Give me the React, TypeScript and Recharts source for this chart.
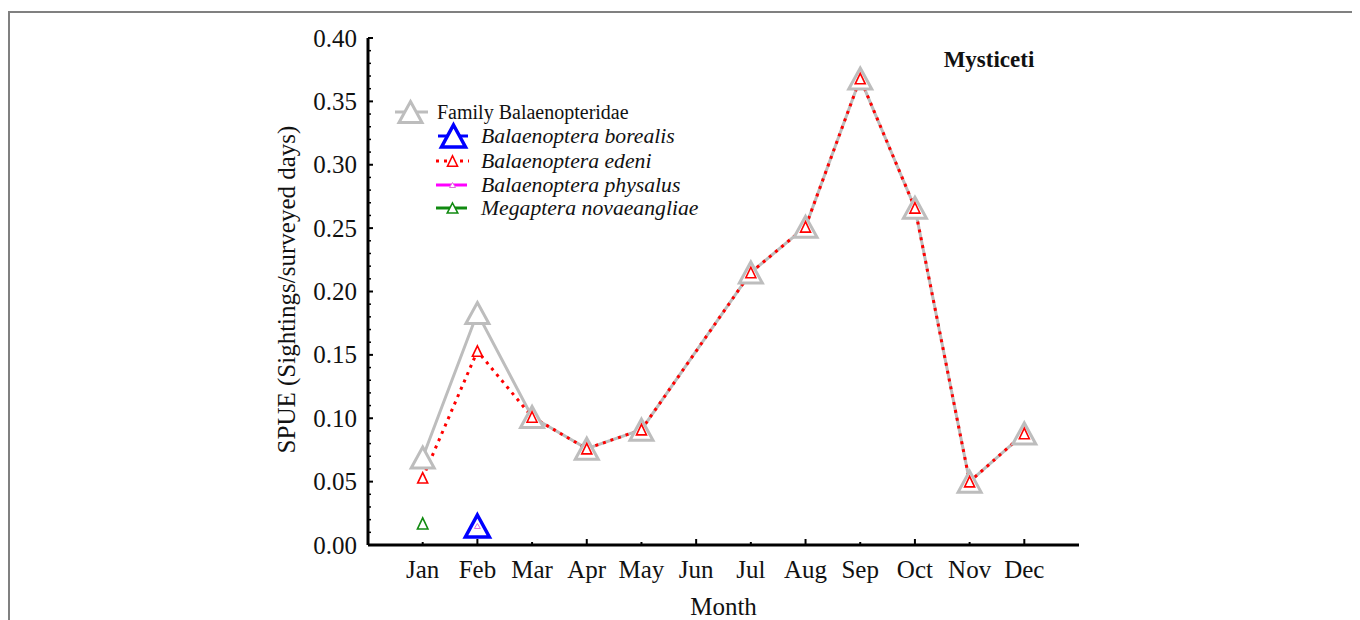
import React from "react";
import { LineChart, Line, XAxis, YAxis, Legend } from "recharts";

const MONTHS = ["Jan", "Feb", "Mar", "Apr", "May", "Jun", "Jul", "Aug", "Sep", "Oct", "Nov", "Dec"];
const FAMILY = [0.069, 0.183, 0.101, 0.076, 0.091, null, 0.215, 0.251, 0.368, 0.266, 0.05, 0.088];
const EDENI = [0.053, 0.153, 0.101, 0.076, 0.091, null, 0.215, 0.251, 0.368, 0.266, 0.05, 0.088];
const BOREALIS = [null, 0.015, null, null, null, null, null, null, null, null, null, null];
const PHYSALUS = [null, 0.015, null, null, null, null, null, null, null, null, null, null];
const MEGAPTERA = [0.017, null, null, null, null, null, null, null, null, null, null, null];

const Y_TICKS = Array.from({ length: 41 }, (_, i) => i / 100);
const X_TICKS = MONTHS.map((_, i) => i + 1);

const data = MONTHS.map((m, i) => ({
  x: i + 1,
  month: m,
  family: FAMILY[i],
  edeni: EDENI[i],
  borealis: BOREALIS[i],
  physalus: PHYSALUS[i],
  megaptera: MEGAPTERA[i],
}));

const FONT = '"Liberation Serif", "Times New Roman", serif';

const C = {
  family: "#bdbdbd",
  borealis: "#0000ff",
  edeni: "#ff0000",
  physalus: "#ff00ff",
  physalusDot: "#e070e0",
  megaptera: "#108a10",
};

function tri(cx: number, cy: number, w: number, h: number) {
  return `${cx},${cy - h / 2} ${cx + w / 2},${cy + h / 2} ${cx - w / 2},${cy + h / 2}`;
}

// triangle markers, white filled like the original plot
function makeDot(color: string, w: number, h: number, sw: number) {
  return (props: any) => {
    const { cx, cy, index, value } = props;
    if (cx == null || cy == null || value == null) return <g key={`e-${index}`} />;
    return (
      <polygon key={`t-${index}`} points={tri(cx, cy, w, h)} fill="#fff" stroke={color} strokeWidth={sw} />
    );
  };
}

function XTick({ x, y, payload }: any) {
  const v = payload.value;
  const len = v % 2 === 0 ? 6 : 3;
  return (
    <g>
      <line x1={x} x2={x} y1={y} y2={y - len} stroke="#000" strokeWidth={2} />
      <text x={x} y={y + 24} textAnchor="middle" dominantBaseline="central" fontSize={25} fontFamily={FONT} fill="#111">
        {MONTHS[v - 1]}
      </text>
    </g>
  );
}

function YTick({ x, y, payload }: any) {
  const v = payload.value;
  const major = Math.round(v * 100) % 5 === 0;
  return (
    <g>
      <line x1={x} x2={x + (major ? 5 : 3)} y1={y} y2={y} stroke="#000" strokeWidth={major ? 2 : 1.5} />
      {major && (
        <text x={x - 11} y={y} textAnchor="end" dominantBaseline="central" fontSize={25} fontFamily={FONT} fill="#111">
          {v.toFixed(2)}
        </text>
      )}
    </g>
  );
}

function YLabel(p: any) {
  const vb = p.viewBox || { x: 278, y: 25, width: 80, height: 507 };
  const cx = vb.x - 2;
  const cy = vb.y + vb.height / 2 - 2;
  return (
    <text x={cx} y={cy} transform={`rotate(-90 ${cx} ${cy})`} textAnchor="middle" dominantBaseline="central" fontSize={25} fontFamily={FONT} fill="#111">
      SPUE (Sightings/surveyed days)
    </text>
  );
}

function XLabel(p: any) {
  const vb = p.viewBox || { x: 358, y: 532, width: 711, height: 60 };
  return (
    <text x={vb.x + vb.width / 2} y={vb.y + 61} textAnchor="middle" dominantBaseline="central" fontSize={25} fontFamily={FONT} fill="#111">
      Month
    </text>
  );
}

// ─── legend (drawn like the Statistica legend) ───
const LEGEND_ROWS = [
  { label: "Family Balaenopteridae", italic: false },
  { label: "Balaenoptera borealis", italic: true },
  { label: "Balaenoptera edeni", italic: true },
  { label: "Balaenoptera physalus", italic: true },
  { label: "Megaptera novaeangliae", italic: true },
];

function LegendBox() {
  const ys = [17, 41, 66, 90, 113];
  return (
    <svg width={330} height={130} style={{ overflow: "visible" }}>
      <line x1={10} x2={43} y1={ys[0]} y2={ys[0]} stroke={C.family} strokeWidth={3} />
      <polygon points={tri(25.5, ys[0], 23, 21)} fill="#fff" stroke={C.family} strokeWidth={3} />

      <line x1={53} x2={83} y1={ys[1]} y2={ys[1]} stroke={C.borealis} strokeWidth={3} />
      <polygon points={tri(68.5, ys[1], 24, 22)} fill="#fff" stroke={C.borealis} strokeWidth={3.5} />

      <line x1={51} x2={84} y1={ys[2]} y2={ys[2]} stroke={C.edeni} strokeWidth={3} strokeDasharray="3 5" />
      <polygon points={tri(67.5, ys[2], 10, 10.5)} fill="#fff" stroke={C.edeni} strokeWidth={1.6} />

      <line x1={51} x2={82} y1={ys[3]} y2={ys[3]} stroke={C.physalus} strokeWidth={3} />
      <polygon points={tri(67.5, ys[3], 6, 5)} fill="#fff" stroke={C.physalusDot} strokeWidth={1} />

      <line x1={51} x2={82} y1={ys[4]} y2={ys[4]} stroke={C.megaptera} strokeWidth={3} />
      <polygon points={tri(67.5, ys[4], 10.5, 10)} fill="#fff" stroke={C.megaptera} strokeWidth={1.6} />

      {LEGEND_ROWS.map((r, i) => (
        <text
          key={r.label}
          x={r.italic ? 96 : 52}
          y={ys[i]}
          dominantBaseline="central"
          fontSize={r.italic ? 21.7 : 20}
          fontStyle={r.italic ? "italic" : "normal"}
          fontFamily={FONT}
          fill="#111"
        >
          {r.label}
        </text>
      ))}
    </svg>
  );
}

export default function App() {
  return (
    <div style={{ paddingTop: 3 }}>
      <div
        style={{
          position: "relative",
          width: 1344,
          height: 607,
          border: "2px solid #808080",
          borderBottom: "none",
          background: "#fff",
        }}
      >
        <LineChart width={1344} height={607} data={data} margin={{ top: 25, right: 275, bottom: 15, left: 278 }}>
          <XAxis
            dataKey="x"
            type="number"
            domain={[0, 13]}
            ticks={X_TICKS}
            interval={0}
            height={60}
            tickSize={0}
            tickMargin={0}
            tickLine={false}
            tick={<XTick />}
            axisLine={{ stroke: "#000", strokeWidth: 3 }}
            label={(p: any) => <XLabel {...p} />}
          />
          <YAxis
            type="number"
            domain={[0, 0.4]}
            ticks={Y_TICKS}
            interval={0}
            width={80}
            tickSize={0}
            tickMargin={0}
            tickLine={false}
            tick={<YTick />}
            axisLine={{ stroke: "#000", strokeWidth: 3 }}
            label={(p: any) => <YLabel {...p} />}
          />
          <Legend
            layout="horizontal"
            verticalAlign="middle"
            align="center"
            content={() => <LegendBox />}
            wrapperStyle={{ left: 375, top: 82, width: 330, height: 130 }}
          />
          <Line
            dataKey="family"
            stroke={C.family}
            strokeWidth={3}
            connectNulls
            dot={makeDot(C.family, 23, 21, 3)}
            isAnimationActive={false}
          />
          <Line
            dataKey="borealis"
            stroke={C.borealis}
            strokeWidth={3}
            dot={makeDot(C.borealis, 24, 22, 3.5)}
            isAnimationActive={false}
          />
          <Line
            dataKey="edeni"
            stroke={C.edeni}
            strokeWidth={3}
            strokeDasharray="3 5"
            connectNulls
            dot={makeDot(C.edeni, 10, 10.5, 1.6)}
            isAnimationActive={false}
          />
          <Line
            dataKey="physalus"
            stroke={C.physalus}
            strokeWidth={2}
            dot={makeDot(C.physalusDot, 6, 5, 1)}
            isAnimationActive={false}
          />
          <Line
            dataKey="megaptera"
            stroke={C.megaptera}
            strokeWidth={2}
            dot={makeDot(C.megaptera, 10.5, 11, 1.6)}
            isAnimationActive={false}
          />
        </LineChart>
        <div
          style={{
            position: "absolute",
            left: 879,
            top: 35,
            width: 200,
            textAlign: "center",
            lineHeight: "24px",
            fontFamily: FONT,
            fontWeight: "bold",
            fontSize: 23,
            color: "#111",
          }}
        >
          Mysticeti
        </div>
      </div>
    </div>
  );
}
